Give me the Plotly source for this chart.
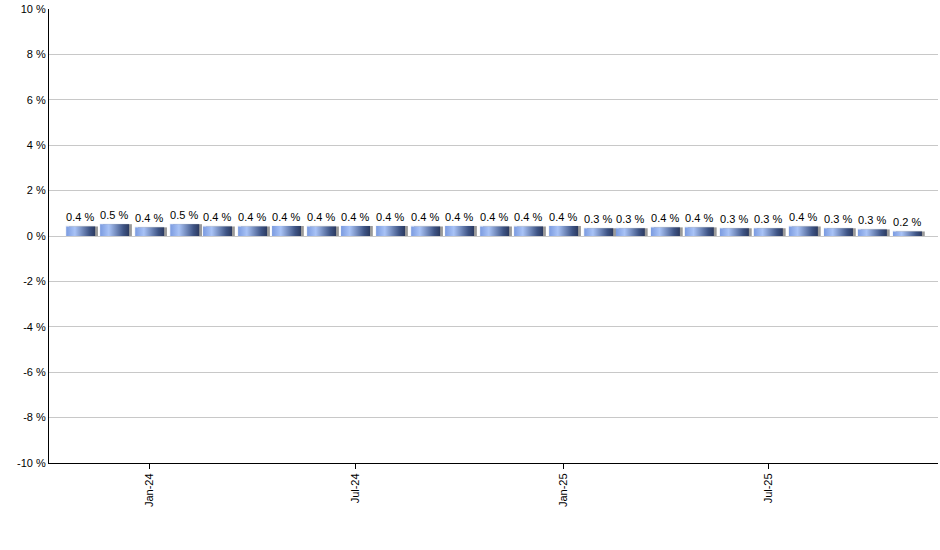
import pandas as pd
import plotly.graph_objects as go

# monthly values (%), Nov-23 .. Nov-25
months = pd.date_range("2023-11-01", "2025-11-01", freq="MS")
values = [0.42, 0.52, 0.38, 0.52, 0.42, 0.42, 0.44, 0.42, 0.44, 0.44, 0.42, 0.44, 0.42,
          0.42, 0.44, 0.34, 0.34, 0.38, 0.38, 0.34, 0.34, 0.42, 0.34, 0.29, 0.2]

ytick_vals = [-10, -8, -6, -4, -2, 0, 2, 4, 6, 8, 10]
ytick_text = ["-10 %", "-8 %", "-6 %", "-4 %", "-2 %", "0 %", "2 %", "4 %", "6 %", "8 %", "10 %"]

half = pd.Timedelta(days=12.8)
shadow = pd.Timedelta(days=2.5)
bar_scale = [[0, "#7b9be0"], [0.3, "#a9c3f6"], [0.8, "#3f5586"], [1, "#2b3a60"]]

fig = go.Figure()

# gradient bars drawn as filled shapes (Plotly bars have no gradient)
for d, v in zip(months, values):
    # grey shadow on the right
    fig.add_trace(go.Scatter(
        x=[d - half + shadow, d - half + shadow, d + half + shadow, d + half + shadow],
        y=[0, v, v, 0], fill="toself", fillcolor="#9a9a9a", mode="lines",
        line=dict(width=0), hoverinfo="skip", showlegend=False))
    fig.add_trace(go.Scatter(
        x=[d - half, d - half, d + half, d + half],
        y=[0, v, v, 0], fill="toself", mode="lines", line=dict(width=0),
        fillgradient=dict(type="horizontal", colorscale=bar_scale),
        hoverinfo="skip", showlegend=False))

# invisible bars carry the value labels
fig.add_trace(go.Bar(
    x=months, y=values, width=2 * half.total_seconds() * 1000,
    marker=dict(color="rgba(0,0,0,0)"),
    text=[f"{v:.1f} %" for v in values], textposition="outside",
    textfont=dict(size=11, color="#000000"), cliponaxis=False,
    hoverinfo="skip", showlegend=False))

fig.update_layout(
    width=940, height=550,
    margin=dict(l=49, r=2, t=9, b=87),
    paper_bgcolor="white", plot_bgcolor="white",
    font=dict(family="Liberation Sans, Arial, sans-serif", size=11, color="#000000"),
    bargap=0,
)
fig.update_xaxes(
    type="date", range=["2023-10-04", "2025-11-28"],
    tick0="2024-01-01", dtick="M6", tickformat="%b-%y", tickangle=-90,
    ticks="outside", ticklen=5, tickcolor="black", automargin=False,
    showline=True, linecolor="black", linewidth=1, showgrid=False, zeroline=False,
)
fig.update_yaxes(
    range=[-10, 10], tickvals=ytick_vals, ticktext=ytick_text, automargin=False,
    showline=True, linecolor="black", linewidth=1,
    gridcolor="#c8c8c8", zeroline=False,
)

# drop the default 8px page margin so the figure sits at the window corner
fig.write_html("out.html", config={"displayModeBar": False},
               post_script="document.body.style.margin='0';")
